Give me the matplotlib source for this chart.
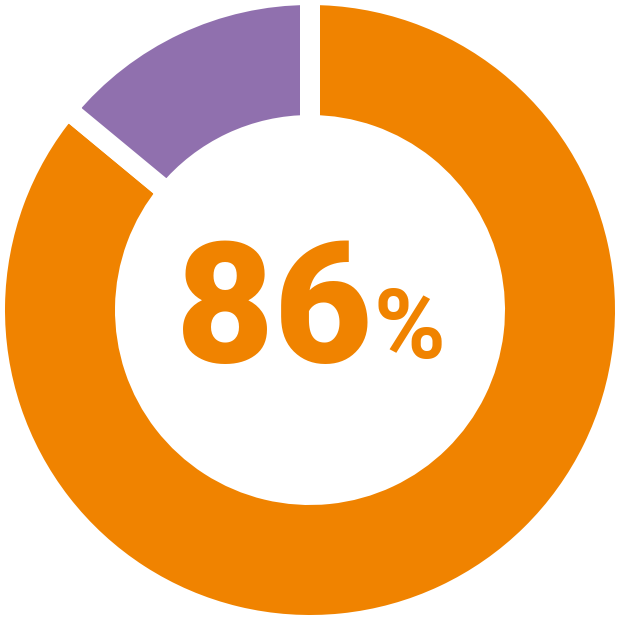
import matplotlib
matplotlib.use("Agg")
import matplotlib.pyplot as plt

labels = ["Yes", "No"]
values = [86, 14]
colors = ["#F08300", "#9070AE"]
center_value = "86"
center_unit = "%"

fig = plt.figure(figsize=(6.2, 6.2), dpi=100)
ax = fig.add_axes([0, 0, 1, 1])
ax.set_xlim(-310, 310)
ax.set_ylim(-310, 310)
ax.set_aspect("equal")
ax.axis("off")

ax.pie(values, colors=colors, startangle=90, counterclock=False,
       radius=315, center=(0, 0), frame=False,
       wedgeprops=dict(width=130, edgecolor="white", linewidth=14.4,
                       joinstyle="round"))
ax.set_xlim(-310, 310)
ax.set_ylim(-310, 310)

ax.text(62, -52, center_value, color=colors[0], fontsize=122,
        fontfamily="Roboto", fontweight="black", ha="right", va="baseline")
ax.text(64, -48, center_unit, color=colors[0], fontsize=70,
        fontfamily="Roboto", fontweight="bold", ha="left", va="baseline")

fig.savefig("out.png", dpi=100, facecolor="white")
